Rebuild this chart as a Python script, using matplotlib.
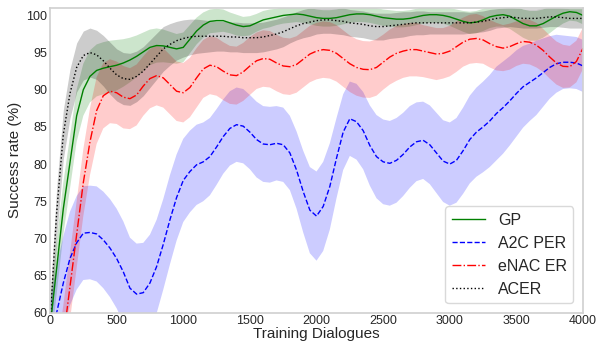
import numpy as np
import matplotlib
matplotlib.use("Agg")
import matplotlib.pyplot as plt

plt.rcParams['font.family'] = ['Liberation Sans', 'DejaVu Sans']

# Training dialogues (x axis samples)
dialogues = np.arange(0, 4001, 50)

# GP: mean success rate and spread
gp_mean = [58.0, 66.0, 74.0, 80.2, 86.5, 90.0, 91.8, 92.6, 92.9, 93.1,
           93.3, 93.6, 94.0, 94.5, 95.1, 95.7, 95.95, 95.9, 95.7, 95.5,
           95.7, 96.8, 97.9, 98.7, 99.2, 99.3, 99.3, 99.0, 98.7, 98.5,
           98.6, 99.0, 99.4, 99.6, 99.8, 100.0, 100.1, 100.2, 100.1, 99.9,
           99.7, 99.6, 99.6, 99.7, 99.9, 100.1, 100.2, 100.2, 100.1, 99.9,
           99.7, 99.6, 99.5, 99.5, 99.6, 99.8, 100.0, 100.1, 100.1, 100.0,
           99.8, 99.5, 99.2, 99.0, 99.1, 99.4, 99.8, 100.0, 100.1, 99.9,
           99.4, 98.9, 98.6, 98.6, 98.9, 99.4, 99.9, 100.3, 100.5, 100.4,
           100.0]
gp_std = [3.5, 3.5, 3.5, 3.5, 3.5, 3.5, 3.5, 3.5, 3.5, 3.5,
          3.4, 3.2, 3.0, 2.8, 2.6, 2.4, 2.3, 2.2, 2.1, 2.0,
          2.0, 1.9, 1.8, 1.7, 1.6, 1.6, 1.5, 1.4, 1.4, 1.3,
          1.3, 1.2, 1.2, 1.2, 1.1, 1.1, 1.1, 1.1, 1.1, 1.1,
          1.1, 1.1, 1.1, 1.1, 1.1, 1.1, 1.1, 1.1, 1.1, 1.1,
          1.1, 1.1, 1.1, 1.1, 1.1, 1.1, 1.1, 1.1, 1.1, 1.1,
          1.2, 1.3, 1.4, 1.5, 1.5, 1.5, 1.5, 1.5, 1.6, 1.7,
          1.8, 1.9, 2.0, 2.0, 1.9, 1.8, 1.6, 1.4, 1.2, 1.2,
          1.2]

# A2C PER
a2c_mean = [55.0, 60.0, 64.0, 67.3, 69.4, 70.7, 70.8, 70.6, 69.8, 68.7,
            67.3, 65.5, 63.3, 62.5, 62.7, 64.0, 66.2, 69.2, 72.5, 75.5,
            77.8, 79.0, 79.9, 80.3, 81.0, 82.3, 83.7, 84.8, 85.3, 85.1,
            84.3, 83.3, 82.7, 82.6, 82.8, 82.6, 81.5, 79.2, 76.3, 73.8,
            73.0, 74.3, 77.0, 80.8, 84.3, 86.1, 85.7, 84.5, 82.5, 81.0,
            80.3, 80.1, 80.5, 81.3, 82.3, 83.0, 83.2, 82.6, 81.5, 80.4,
            80.0, 80.5, 81.8, 83.3, 84.3, 85.0, 85.8, 86.8, 87.6, 88.5,
            89.5, 90.4, 91.0, 91.6, 92.3, 93.0, 93.5, 93.7, 93.7, 93.6,
            93.2]
a2c_std = [6.3, 6.3, 6.3, 6.3, 6.3, 6.3, 6.3, 6.4, 6.5, 6.6,
           6.7, 6.8, 6.8, 6.8, 6.7, 6.5, 6.3, 6.1, 6.0, 5.8,
           5.6, 5.5, 5.4, 5.3, 5.2, 5.1, 5.0, 5.0, 5.0, 5.0,
           5.0, 5.1, 5.1, 5.1, 5.0, 5.0, 5.0, 5.2, 5.5, 5.8,
           6.0, 6.0, 5.8, 5.4, 5.1, 5.0, 5.1, 5.2, 5.4, 5.6,
           5.7, 5.7, 5.7, 5.6, 5.5, 5.3, 5.2, 5.3, 5.4, 5.5,
           5.6, 5.7, 5.8, 5.9, 6.0, 6.1, 6.2, 6.3, 6.2, 6.0,
           5.8, 5.5, 5.2, 5.0, 4.6, 4.2, 3.9, 3.6, 3.5, 3.5,
           3.5]

# eNAC ER
enac_mean = [45.0, 50.0, 56.5, 63.5, 70.5, 77.5, 83.0, 87.2, 89.2, 89.8,
             89.6, 89.0, 88.8, 89.3, 90.5, 91.5, 91.9, 91.6, 90.7, 89.8,
             89.6, 90.3, 91.6, 92.8, 93.3, 93.1, 92.5, 92.0, 91.9, 92.4,
             93.2, 93.9, 94.2, 94.1, 93.6, 93.2, 93.1, 93.4, 94.1, 94.8,
             95.2, 95.4, 95.3, 94.9, 94.2, 93.5, 93.0, 92.75, 92.7, 93.0,
             93.7, 94.4, 94.9, 95.2, 95.4, 95.4, 95.2, 95.0, 94.8, 94.9,
             95.2, 95.8, 96.4, 96.8, 96.9, 96.7, 96.2, 95.8, 95.6, 95.8,
             96.2, 96.5, 96.4, 96.0, 95.3, 94.4, 93.6, 93.15, 93.1, 93.8,
             95.6]
enac_std = [4.5, 4.5, 4.5, 4.5, 4.5, 4.5, 4.5, 4.5, 4.4, 4.3,
            4.2, 4.2, 4.1, 4.1, 4.0, 4.0, 4.0, 4.0, 4.0, 4.0,
            4.0, 4.0, 4.0, 3.9, 3.9, 3.9, 3.9, 3.9, 3.9, 3.9,
            3.9, 3.8, 3.8, 3.8, 3.8, 3.8, 3.8, 3.8, 3.8, 3.8,
            3.8, 3.8, 3.8, 3.8, 3.8, 3.8, 3.8, 3.8, 3.8, 3.8,
            3.7, 3.7, 3.7, 3.6, 3.6, 3.6, 3.5, 3.5, 3.5, 3.4,
            3.4, 3.4, 3.3, 3.3, 3.3, 3.2, 3.2, 3.2, 3.1, 3.1,
            3.0, 3.0, 3.0, 3.0, 2.9, 2.9, 2.9, 2.9, 2.8, 2.8,
            2.8]

# ACER
acer_mean = [58.5, 73.5, 84.0, 89.5, 93.0, 94.6, 95.0, 94.7, 93.9, 92.9,
             92.0, 91.5, 91.4, 91.8, 92.5, 93.5, 94.5, 95.5, 96.1, 96.6,
             96.9, 97.1, 97.2, 97.2, 97.2, 97.2, 97.2, 97.1, 97.1, 97.0,
             97.0, 97.0, 97.1, 97.3, 97.5, 97.8, 98.2, 98.6, 98.9, 99.1,
             99.3, 99.4, 99.4, 99.3, 99.2, 99.0, 98.9, 98.8, 98.6, 98.5,
             98.5, 98.6, 98.7, 98.8, 98.9, 99.0, 99.0, 99.0, 99.0, 99.0,
             99.0, 99.0, 99.0, 99.0, 99.1, 99.2, 99.4, 99.6, 99.7, 99.8,
             99.7, 99.6, 99.6, 99.6, 99.7, 99.8, 99.8, 99.7, 99.6, 99.6,
             99.6]
acer_std = [3.3, 3.3, 3.3, 3.3, 3.3, 3.3, 3.3, 3.3, 3.4, 3.5,
            3.5, 3.5, 3.5, 3.4, 3.3, 3.2, 3.1, 3.0, 2.8, 2.6,
            2.5, 2.4, 2.3, 2.2, 2.1, 2.0, 2.0, 2.0, 2.0, 2.0,
            2.0, 2.0, 2.0, 2.0, 2.0, 2.0, 1.9, 1.9, 1.9, 1.9,
            1.8, 1.8, 1.8, 1.8, 1.8, 1.8, 1.8, 1.8, 1.8, 1.8,
            1.8, 1.7, 1.7, 1.7, 1.6, 1.6, 1.6, 1.5, 1.5, 1.5,
            1.5, 1.5, 1.5, 1.4, 1.4, 1.4, 1.4, 1.3, 1.3, 1.3,
            1.3, 1.3, 1.3, 1.3, 1.3, 1.3, 1.3, 1.3, 1.3, 1.3,
            1.3]

series = [
    ("GP", gp_mean, gp_std, "green", "-"),
    ("A2C PER", a2c_mean, a2c_std, "blue", "--"),
    ("eNAC ER", enac_mean, enac_std, "red", "-."),
    ("ACER", acer_mean, acer_std, "black", ":"),
]

fig = plt.figure(figsize=(5.98, 3.43), dpi=100)
ax = fig.add_axes([0.0836, 0.0883, 0.8914, 0.8884])

for label, mean, std, color, ls in series:
    m = np.asarray(mean)
    s = np.asarray(std)
    ax.fill_between(dialogues, m - s, m + s, color=color, alpha=0.2,
                    linewidth=0)
    ax.plot(dialogues, m, color=color, linestyle=ls, linewidth=1.0,
            label=label)

ax.set_xlim(0, 4000)
ax.set_ylim(60, 101)
ax.set_xticks(np.arange(0, 4001, 500))
ax.set_yticks(np.arange(60, 101, 5))
ax.tick_params(axis='both', which='both', length=0, labelsize=9,
               colors='#262626', pad=2)
for sp in ax.spines.values():
    sp.set_color('#d0d0d0')
    sp.set_linewidth(1.2)

ax.set_xlabel("Training Dialogues", fontsize=11, color='#262626',
              labelpad=0)
ax.set_ylabel("Success rate (%)", fontsize=11, color='#262626',
              labelpad=3)

leg = ax.legend(loc='lower right', fontsize=11.5, frameon=True,
                fancybox=True, borderaxespad=0.6, handlelength=2.1)
leg.get_frame().set_edgecolor('#d0d0d0')
leg.get_frame().set_linewidth(1.0)
for t in leg.get_texts():
    t.set_color('#262626')

fig.savefig("out.png", dpi=100)
